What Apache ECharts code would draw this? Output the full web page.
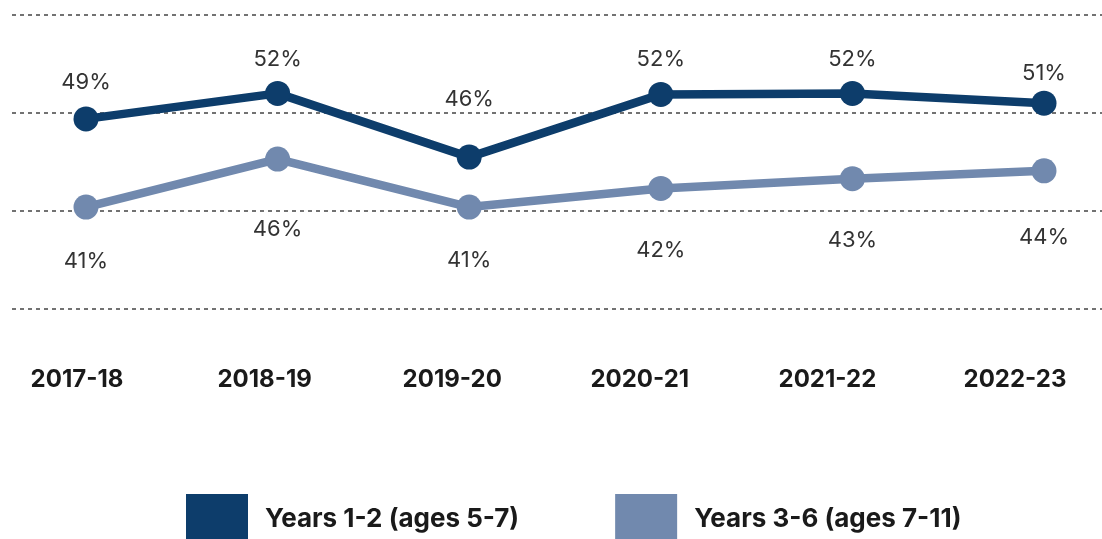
<!DOCTYPE html>
<html><head><meta charset="utf-8">
<script src="https://cdn.jsdelivr.net/npm/echarts@6/dist/echarts.min.js"></script>
<style>html,body{margin:0;padding:0;background:#fff}#c{width:1102px;height:539px}</style>
</head><body><div id="c"></div>
<script>
const categories = ['2017-18','2018-19','2019-20','2020-21','2021-22','2022-23'];
const seriesNames = ['Years 1-2 (ages 5-7)','Years 3-6 (ages 7-11)'];
const years12 = [49.4, 52.0, 45.5, 51.9, 52.0, 51.0];
const years36 = [40.4, 45.3, 40.4, 42.3, 43.3, 44.1];
const years12Labels = ['49%','52%','46%','52%','52%','51%'];
const years36Labels = ['41%','46%','41%','42%','43%','44%'];
const yMin = 30, yMax = 60, yStep = 10;
// layout only: vertical shift of each value label from its point
const labelShift12 = [-36,-34,-58,-35,-34,-30];
const labelShift36 = [54,70,53,62,62,67];

const DARK = '#0d3d6b', LIGHT = '#7189ae';
const FONT = 'Inter, "Noto Sans", sans-serif';

function buildData(vals, labels, shifts){
  return vals.map((v,i)=>({value:v, label:{formatter:labels[i], offset:[0, shifts[i]]}}));
}
const yBase = {type:'value', min:yMin, max:yMax, interval:yStep, axisLine:{show:false}, axisTick:{show:false}, axisLabel:{show:false}};
const chart = echarts.init(document.getElementById('c'));
chart.setOption({
  animation:false,
  backgroundColor:'#fff',
  grid:[
    {left:12, right:0, top:15, bottom:230},
    {left:86, right:58, top:15, bottom:230},
    {left:77, right:87, top:15, bottom:230}
  ],
  xAxis:[
    {gridIndex:0, type:'value', show:false},
    {gridIndex:1, type:'category', data:categories, boundaryGap:false, show:false},
    {gridIndex:2, type:'category', data:categories, boundaryGap:false,
      axisLine:{show:false}, axisTick:{show:false}, splitLine:{show:false},
      axisLabel:{margin:71, verticalAlign:'middle', fontSize:24, fontWeight:'bold', color:'#1a1a1a', fontFamily:FONT, interval:0}}
  ],
  yAxis:[
    Object.assign({gridIndex:0, splitLine:{show:true, lineStyle:{color:'#444', width:1.5, type:[4,4]}}}, yBase),
    Object.assign({gridIndex:1, splitLine:{show:false}}, yBase),
    Object.assign({gridIndex:2, splitLine:{show:false}}, yBase)
  ],
  legend:{
    left:186, top:494, itemWidth:62, itemHeight:50, itemGap:96, padding:0,
    icon:'rect',
    data:[{name:seriesNames[0], itemStyle:{color:DARK}},{name:seriesNames[1], itemStyle:{color:LIGHT}}],
    textStyle:{fontSize:26, fontWeight:'bold', color:'#1a1a1a', fontFamily:FONT, padding:[0,0,0,12]}
  },
  series:[
    {name:seriesNames[1], type:'line', xAxisIndex:1, yAxisIndex:1, data:buildData(years36, years36Labels, labelShift36),
      symbol:'circle', symbolSize:25, lineStyle:{color:LIGHT, width:8.5}, itemStyle:{color:LIGHT},
      label:{show:true, position:'inside', fontSize:22, color:'#333', fontFamily:FONT}, z:2},
    {name:seriesNames[0], type:'line', xAxisIndex:1, yAxisIndex:1, data:buildData(years12, years12Labels, labelShift12),
      symbol:'circle', symbolSize:25, lineStyle:{color:DARK, width:8.5}, itemStyle:{color:DARK},
      label:{show:true, position:'inside', fontSize:22, color:'#333', fontFamily:FONT}, z:3}
  ]
});
</script></body></html>
